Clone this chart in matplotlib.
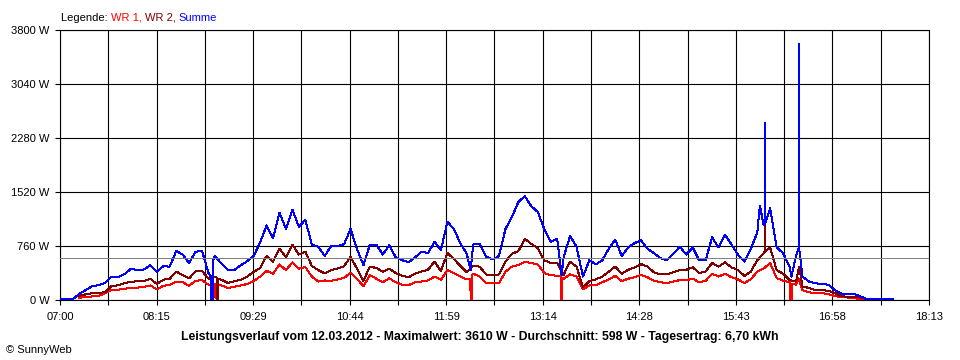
import numpy as np
import matplotlib
matplotlib.use("Agg")
import matplotlib.pyplot as plt

plt.rcParams['font.family'] = ['Liberation Sans', 'DejaVu Sans']
plt.rcParams['font.size'] = 8

nan = float('nan')

# minutes after 07:00, one reading every 5 minutes
minutes = list(range(0, 650, 5))

summe = [10, 10, 10,
         90, 140, 195, 210, 240, 330, 320, 365, 440, 420, 430, 490, 400, 475, 470, 690, 640, 520, 680, 690, 380,
         620, 515, 420, 420, 490, 545, 620, 810, 1050, 870, 1230, 1000, 1270, 1030, 1130, 780, 750, 620, 760, 760, 785,
         1000, 720, 490, 780, 780, 640, 770, 600, 560, 530, 600, 680, 660, 820, 700, 1100, 1000, 800, 650, 780, 790,
         610, 570, 620, 1000, 1170, 1380, 1460, 1320, 1240, 1000, 820, 860, 600, 900, 750, 330, 560, 500, 560, 720, 850,
         620, 740, 800, 840, 720, 660, 590, 560, 650, 750, 640, 740, 560, 560, 880, 740, 920, 780, 640, 540, 720,
         950, 1050, 1290, 740, 660, 470, 620, 330, 260, 235, 225, 215, 140, 90, 80, 85, 50, 15, 10, 10, 10, 10]

wr2 = [nan, nan, nan,
       60, 80, 95, 100, 110, 200, 205, 240, 255, 265, 265, 300, 225, 285, 300, 400, 350, 305, 405, 410, 300,
       330, 285, 240, 265, 285, 330, 395, 450, 620, 540, 720, 600, 780, 640, 680, 480, 420, 375, 420, 445, 475,
       610, 440, 270, 470, 450, 400, 440, 380, 340, 320, 370, 400, 425, 540, 410, 660, 580, 480, 390, 480, 470,
       360, 345, 360, 540, 650, 690, 860, 790, 730, 560, 520, 520, 355, 540, 470, 180, 265, 290, 330, 400, 470,
       370, 425, 460, 505, 470, 390, 360, 360, 390, 420, 425, 460, 380, 400, 520, 470, 530, 460, 420, 340, 400,
       560, 660, 740, 420, 370, 280, 260, 190, 170, 140, 140, 130, 100, 55, 45, 40, 35, 10, nan, nan, nan, nan]

wr1 = [nan, nan, nan,
       30, 45, 50, 60, 95, 140, 145, 160, 165, 175, 185, 205, 150, 200, 215, 260, 250, 200, 270, 280, 215,
       220, 205, 170, 185, 205, 225, 265, 330, 410, 370, 500, 420, 530, 440, 465, 330, 260, 275, 270, 290, 310,
       385, 300, 190, 350, 300, 250, 305, 250, 215, 210, 250, 260, 275, 330, 285, 420, 380, 330, 290, 370, 330,
       240, 235, 235, 400, 470, 490, 540, 520, 500, 380, 350, 340, 300, 360, 330, 150, 205, 210, 250, 290, 340,
       265, 300, 320, 350, 320, 270, 250, 235, 260, 280, 280, 300, 250, 270, 370, 330, 370, 320, 290, 240, 290,
       400, 445, 516, 310, 270, 250, 215, 140, 110, 95, 95, 85, 55, 40, 35, 25, 15, 5, nan, nan, nan, nan]

# short readings between the 5-minute values (dropouts and spikes): (minute, W)
summe_events = [(116.8, 330), (117, 0), (118.5, 0), (118.7, 560), (318, 420), (388.5, 350), (542, 1330),
                (545.9, 1060), (546, 2490), (546.1, 1070), (566.5, 330),
                (572.4, 740), (572.5, 3610), (572.6, 700)]
wr2_events = [(121.3, 320), (121.5, 0), (122.3, 0), (122.5, 300),
              (545.9, 680), (546, 1030), (546.1, 680), (572.5, 470)]
wr1_events = [(118.5, 210), (118.7, 0), (121.3, 0), (121.5, 215),
              (317.8, 300), (318, 0), (318.8, 0), (319, 340),
              (387.8, 330), (388, 0), (388.8, 0), (389, 310),
              (565.5, 260), (565.7, 0), (566.6, 0), (566.8, 230), (572, 305)]

average_w = 598
y_ticks = [0, 760, 1520, 2280, 3040, 3800]
x_labels = ['07:00', '08:15', '09:29', '10:44', '11:59', '13:14', '14:28', '15:43', '16:58', '18:13']
x_span = 673  # 07:00 .. 18:13 in minutes

title = ('Leistungsverlauf vom 12.03.2012 - Maximalwert: 3610 W - '
         'Durchschnitt: 598 W - Tagesertrag: 6,70 kWh')


def merge(values, events):
    pts = list(zip(minutes, values)) + list(events)
    pts.sort(key=lambda p: p[0])
    m, w = zip(*pts)
    return np.array(m, dtype=float), np.array(w, dtype=float)


fig = plt.figure(figsize=(9.6, 3.6), dpi=100)
ax = fig.add_axes([60 / 960, 60 / 360, 869 / 960, 270 / 360])

for vals, ev, col in [(wr1, wr1_events, '#ff0000'),
                      (wr2, wr2_events, '#800000'),
                      (summe, summe_events, '#0000ff')]:
    m, w = merge(vals, ev)
    ax.plot(m, w, color=col, lw=0.72, zorder=3, antialiased=False)

ax.axhline(average_w, color='#808080', lw=0.72, zorder=4, antialiased=False)

ax.set_xlim(0, x_span)
ax.set_ylim(0, 3800)
ax.set_xticks(np.linspace(0, x_span, 19))
labels = [''] * 19
labels[::2] = x_labels
ax.set_xticklabels(labels)
ax.set_yticks(y_ticks)
ax.set_yticklabels([f'{v} W' for v in y_ticks])
ax.tick_params(direction='out', length=3.6, width=0.8, colors='black', labelsize=8)
ax.tick_params(axis='x', pad=5)
ax.tick_params(axis='y', pad=4)
ax.grid(True, color='black', lw=0.8, zorder=1)
for s in ax.spines.values():
    s.set_color('black')
    s.set_linewidth(0.8)

# legend line at the top, coloured pieces placed one after another
r = fig.canvas.get_renderer()
x = 61
for piece, col in [('Legende: ', 'black'), ('WR 1, ', '#ff0000'),
                   ('WR 2, ', '#800000'), ('Summe', '#0000ff')]:
    t = fig.text(x / 960, 1 - 21 / 360, piece, color=col, fontsize=8, va='baseline')
    x = t.get_window_extent(renderer=r).x1

fig.text(0.5, 20 / 360, title, ha='center', va='baseline', fontsize=8.8, fontweight='bold')
fig.text(6 / 960, 7 / 360, '\u00a9 SunnyWeb', fontsize=8, va='baseline')

fig.savefig('out.png', dpi=100)
